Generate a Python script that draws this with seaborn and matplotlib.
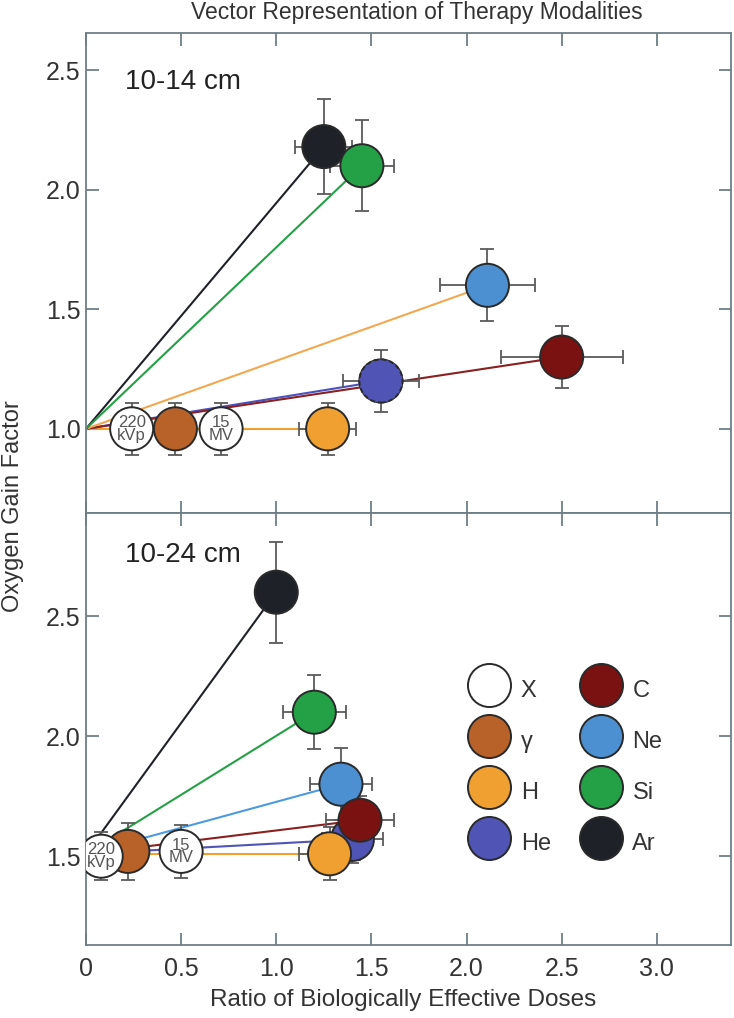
import matplotlib
matplotlib.use("Agg")
import matplotlib.pyplot as plt
from matplotlib.lines import Line2D
import seaborn as sns
import pandas as pd

sns.set_theme(style="white")
plt.rcParams['font.family'] = ['Liberation Sans', 'DejaVu Sans']

# ---------------- data ----------------
modalities = ["X", "γ", "H", "He", "C", "Ne", "Si", "Ar"]
colors = {"X": "#FFFFFF", "γ": "#B8622A", "H": "#F0A030", "He": "#5054B4",
          "C": "#7A1212", "Ne": "#4C90D2", "Si": "#24A046", "Ar": "#1E2228"}

# top panel (10-14 cm)
top_labels = ["220 kVp", "γ", "15 MV", "H", "He", "C", "Ne", "Ar", "Si"]
top_mod = ["X", "γ", "X", "H", "He", "C", "Ne", "Ar", "Si"]
top_x = [0.24, 0.47, 0.71, 1.27, 1.55, 2.50, 2.11, 1.25, 1.45]
top_y = [1.00, 1.00, 1.00, 1.00, 1.20, 1.30, 1.60, 2.18, 2.10]
top_xerr = [0, 0, 0, 0.15, 0.20, 0.32, 0.25, 0.15, 0.17]
top_yerr = [0.11, 0.11, 0.11, 0.11, 0.13, 0.13, 0.15, 0.20, 0.19]
top_origin = (0.0, 1.0)
top_line_colors = {"H": "#F0A030", "He": "#4A52C0", "C": "#8A2020",
                   "Ne": "#F2A850", "Ar": "#1E2228", "Si": "#24A046"}

# bottom panel (10-24 cm)
bot_labels = ["γ", "220 kVp", "15 MV", "He", "Ne", "C", "H", "Si", "Ar"]
bot_mod = ["γ", "X", "X", "He", "Ne", "C", "H", "Si", "Ar"]
bot_x = [0.22, 0.08, 0.50, 1.40, 1.34, 1.44, 1.28, 1.20, 1.00]
bot_y = [1.52, 1.50, 1.52, 1.57, 1.80, 1.65, 1.51, 2.10, 2.60]
bot_xerr = [0, 0, 0, 0.16, 0.165, 0.18, 0.16, 0.165, 0]
bot_yerr = [0.12, 0.10, 0.11, 0.10, 0.15, 0.10, 0.11, 0.155, 0.21]
bot_origin = (0.0, 1.51)
bot_line_colors = {"γ": "#B8622A", "He": "#5054B4", "Ne": "#4C9AE0",
                   "C": "#8A2020", "H": "#F0A030", "Si": "#24A046",
                   "Ar": "#1E2228"}

xticks = [0, 0.5, 1.0, 1.5, 2.0, 2.5, 3.0]
xticklabels = ["0", "0.5", "1.0", "1.5", "2.0", "2.5", "3.0"]

# ---------------- figure ----------------
fig = plt.figure(figsize=(7.34, 10.18), dpi=100)
L, R = 86/734, 731/734
y_top, y_mid, y_bot = 1-33/1018, 1-513/1018, 1-945/1018
ax1 = fig.add_axes([L, y_mid, R-L, y_top-y_mid])
ax2 = fig.add_axes([L, y_bot, R-L, y_mid-y_bot], sharex=ax1)

spine_col = "#6E7E86"
err_col = "#5A5A5A"
txt_col = "#333333"
MS = 31  # marker diameter in points


def draw_panel(ax, labels, mods, xs, ys, xerr, yerr, origin, line_cols, dashed=None):
    df = pd.DataFrame({"label": labels, "mod": mods, "x": xs, "y": ys,
                       "xerr": xerr, "yerr": yerr})
    for _, r in df.iterrows():
        if r["mod"] in line_cols:
            ax.plot([origin[0], r["x"]], [origin[1], r["y"]],
                    color=line_cols[r["mod"]], lw=1.5, zorder=2)
    ax.errorbar(df["x"], df["y"], xerr=df["xerr"], yerr=df["yerr"], fmt="none",
                ecolor=err_col, elinewidth=1.3, capsize=5, capthick=1.3, zorder=3)
    sns.scatterplot(data=df, x="x", y="y", hue="label",
                    palette={l: colors[m] for l, m in zip(labels, mods)},
                    s=MS**2, edgecolor="#2A2A2A", linewidth=1.4, legend=False,
                    ax=ax, zorder=4)
    if dashed is not None:
        d = df[df["mod"] == dashed]
        ax.scatter(d["x"], d["y"], s=MS**2, facecolor=colors[dashed],
                   edgecolor="#2A2A2A", linewidth=1.4, linestyle=(0, (2.5, 1.5)),
                   zorder=5)
    for _, r in df.iterrows():
        if r["label"] in ("220 kVp", "15 MV"):
            ax.text(r["x"], r["y"], r["label"].replace(" ", "\n"), ha="center",
                    va="center", fontsize=12, color="#555555", linespacing=0.8,
                    zorder=6)


draw_panel(ax1, top_labels, top_mod, top_x, top_y, top_xerr, top_yerr,
           top_origin, top_line_colors, dashed="He")
draw_panel(ax2, bot_labels, bot_mod, bot_x, bot_y, bot_xerr, bot_yerr,
           bot_origin, bot_line_colors)

ax1.set_ylim(0.648, 2.655)
ax2.set_ylim(1.13, 2.93)
ax1.set_xlim(0, 3.39)
ax1.set_yticks([1.0, 1.5, 2.0, 2.5])
ax2.set_yticks([1.5, 2.0, 2.5])
ax2.set_xticks(xticks)
ax2.set_xticklabels(xticklabels)

for ax in (ax1, ax2):
    ax.set_xlabel("")
    ax.set_ylabel("")
    for s in ax.spines.values():
        s.set_color(spine_col)
        s.set_linewidth(1.3)
    ax.tick_params(direction="in", length=9, width=1.3, color=spine_col,
                   top=True, right=True, left=True, bottom=True,
                   labelsize=18, labelcolor=txt_col)
    ax.tick_params(axis="y", pad=4)
    ax.tick_params(axis="x", pad=9)
ax1.tick_params(labelbottom=False)

ax1.text(0.06, 0.883, "10-14 cm", transform=ax1.transAxes, fontsize=20,
         color="#222222", va="baseline")
ax2.text(0.06, 0.887, "10-24 cm", transform=ax2.transAxes, fontsize=20,
         color="#222222", va="baseline")

fig.text(417/734, 1-13/1018, "Vector Representation of Therapy Modalities",
         ha="center", va="center", fontsize=16.5, color=txt_col)
fig.text(403/734, 1-1000/1018, "Ratio of Biologically Effective Doses",
         ha="center", va="center", fontsize=17.5, color=txt_col)
fig.text(13/734, 1-506/1018, "Oxygen Gain Factor", rotation=90, ha="center",
         va="center", fontsize=17, color=txt_col)

# legend
order = ["X", "γ", "H", "He", "C", "Ne", "Si", "Ar"]
handles = [Line2D([], [], marker="o", linestyle="none", markersize=MS,
                  markerfacecolor=colors[m], markeredgecolor="#2A2A2A",
                  markeredgewidth=1.4) for m in order]
ax2.legend(handles, order, ncol=2, loc="upper left",
           bbox_to_anchor=(0.5918, 0.630), frameon=False, fontsize=17,
           handlelength=1.8, handleheight=1.8, handletextpad=0.45,
           labelspacing=0.74, columnspacing=1.2, borderpad=0, borderaxespad=0,
           labelcolor=txt_col)

fig.savefig("out.png", dpi=100)
